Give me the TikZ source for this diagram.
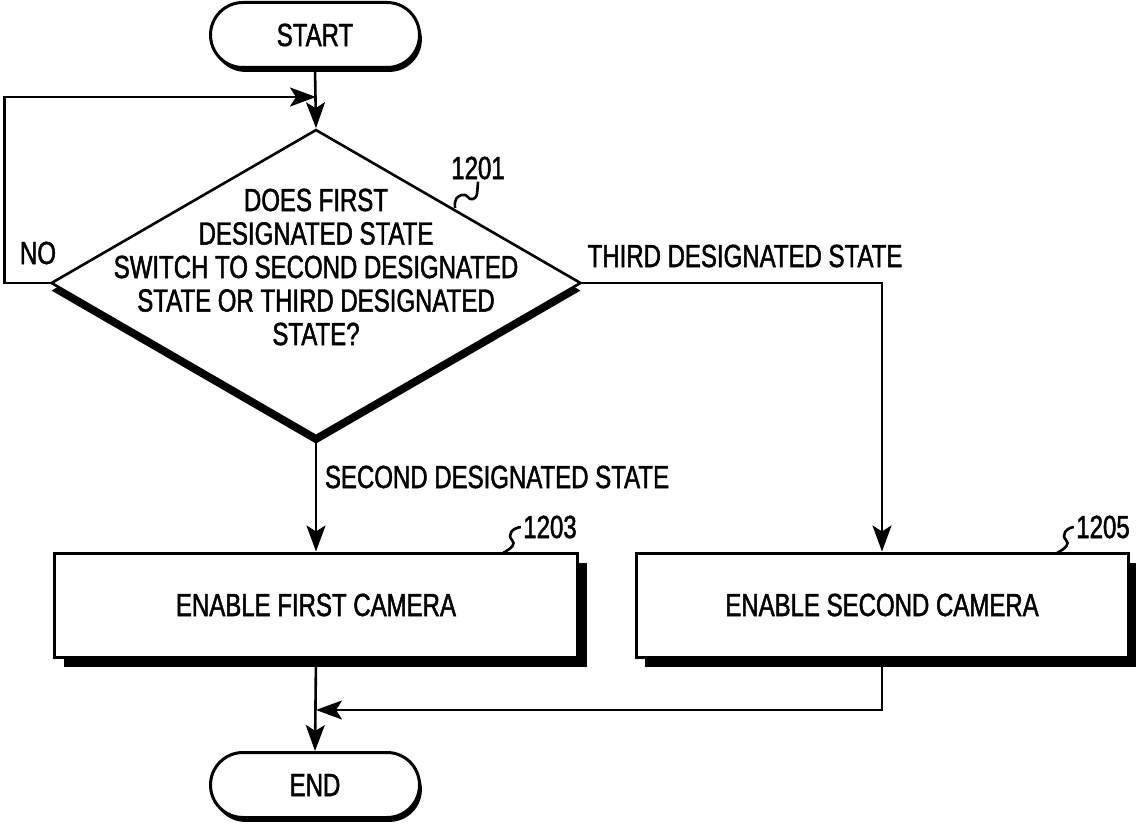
\documentclass[tikz,border=0pt]{standalone}
\usepackage{fontspec}
\setmainfont{Liberation Sans}[FakeStretch=0.75,FakeBold=1.5]
\usetikzlibrary{arrows.meta,positioning,shapes.geometric,shapes.misc,shadows}
\tikzset{
    %Define standard arrow tip
    >={Stealth[length=13pt,width=9.5pt,inset=3pt]},
    %Define style for start and end
    terminal/.style={
           rounded rectangle,
           draw=black, line width=1.5pt, fill=white,
           minimum width=104.5pt,
           minimum height=32.5pt,
           inner sep=0pt,
           drop shadow={shadow xshift=1.2pt,shadow yshift=-2.2pt,fill=black,opacity=1},
           font=\fontsize{16pt}{16.75pt}\selectfont},
    %Define style for the question
    decision/.style={
           diamond,
           draw=black, line width=1.3pt, fill=white,
           minimum width=265pt,
           minimum height=153.5pt,
           inner sep=0pt,
           drop shadow={shadow xshift=0pt,shadow yshift=-3.8pt,fill=black,opacity=1}},
    %Define style for boxes
    process/.style={
           rectangle,
           draw=black, line width=1.5pt, fill=white,
           minimum height=52pt,
           inner sep=0pt,
           drop shadow={shadow xshift=4.5pt,shadow yshift=-5pt,fill=black,opacity=1},
           font=\fontsize{16pt}{16.75pt}\selectfont},
    annote/.style={
          inner sep=1pt,
          font=\fontsize{16pt}{16.75pt}\selectfont
    },
    % Define arrow style
    arrow/.style={
           ->,
           line width=1.3pt},
    tick/.style={line width=1.3pt},
}
\begin{document}
\begin{tikzpicture}[x=0.5pt,y=-0.5pt]
  \useasboundingbox (0,0) rectangle (1136,824);
  \node[terminal] (start) at (315,35) {START};
  \node[decision] (check) at (316,283) {};
  \node[annote, align=center] (checktxt) at (316,267)
       {DOES FIRST\\DESIGNATED STATE\\SWITCH TO SECOND DESIGNATED\\STATE OR THIRD DESIGNATED\\STATE?};
  \node[process, minimum width=261.5pt] (first) at (316,605) {ENABLE FIRST CAMERA};
  \node[process, minimum width=246pt] (second) at (882,605) {ENABLE SECOND CAMERA};
  \node[terminal] (end) at (315,785) {END};

  \node[annote] (n1201) at (478,168) {1201};
  \node[annote] (n1203) at (550,527) {1203};
  \node[annote] (n1205) at (1103,527) {1205};
  \node[annote] (lno) at (38,253) {NO};
  \node[annote] (lthird) at (745,256) {THIRD DESIGNATED STATE};
  \node[annote] (lsecond) at (497,477) {SECOND DESIGNATED STATE};

  \coordinate (loop) at (316,97);
  \coordinate (merge) at (316,710);
  \coordinate (c1201) at (455,208);
  \coordinate (c1203) at (503,553);
  \coordinate (c1205) at (1057,553);

  \path (start.south) edge[arrow] (check.north);
  \draw[arrow] (check.west) -- ++(-45,0) |- (loop);
  \draw[arrow] (check.east) -| (second.north);
  \path (check.south) edge[arrow] (first.north);
  \path (first.south) edge[arrow] (end.north);
  \draw[arrow] (second.south) |- (merge);

  \draw[tick] (c1201) .. controls (454,198) and (458,196) .. (462,195)
        .. controls (468,193) and (468,201) .. (473,199)
        .. controls (477,197) .. (n1201.south);
  \draw[tick] (c1203) .. controls (512,548) and (516,544) .. (512,540)
        .. controls (507,535) and (512,528) .. (n1203.west);
  \draw[tick] (c1205) .. controls (1066,548) and (1070,544) .. (1066,540)
        .. controls (1061,535) and (1066,528) .. (n1205.west);
\end{tikzpicture}
\end{document}
